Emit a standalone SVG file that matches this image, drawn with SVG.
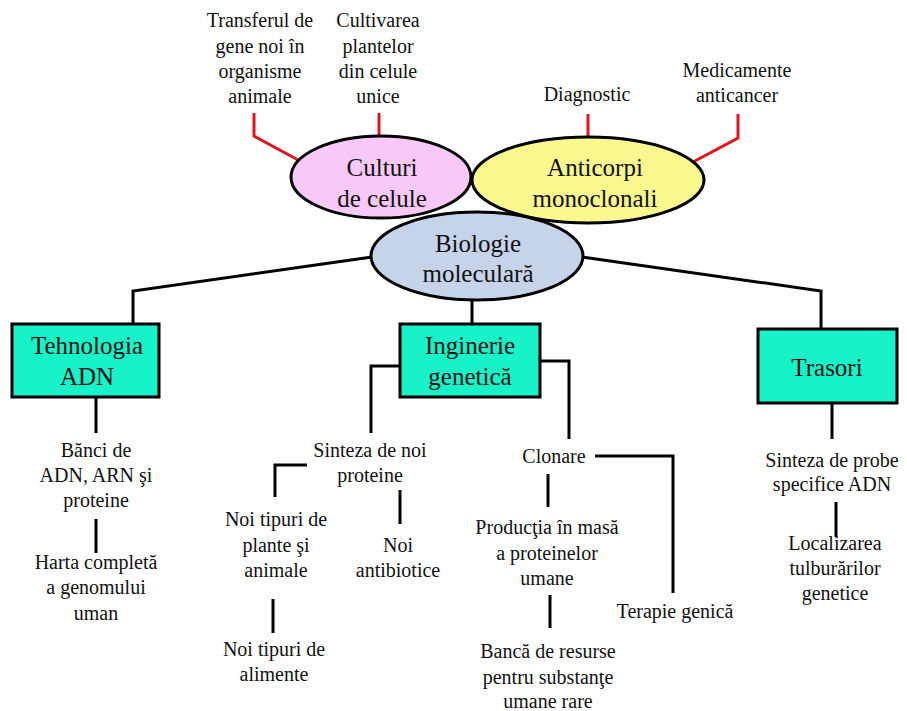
<svg xmlns="http://www.w3.org/2000/svg" width="907" height="711" viewBox="0 0 907 711" font-family="Liberation Serif, DejaVu Serif, serif">
<style>
text{fill:#111;text-anchor:middle}
.s{font-size:20px}
.b{font-size:25px}
.c{fill:none;stroke:#000;stroke-width:3}
.r{fill:none;stroke:#E0151E;stroke-width:3}
.e{stroke:#000;stroke-width:3}
.box{fill:#18F2C8;stroke:#000;stroke-width:3}
</style>
<rect width="907" height="711" fill="#fff"/>
<g id="connectors">
<polyline class="r" points="254,113 254,136 300,161"/>
<polyline class="r" points="379,113 379,137"/>
<polyline class="r" points="588,114 588,138"/>
<polyline class="r" points="738,114 738,138 693,162"/>
<polyline class="c" points="372,257 133,291 133,324"/>
<polyline class="c" points="472,298 472,324"/>
<polyline class="c" points="582,257 821,291 821,329"/>
<polyline class="c" points="96,397 96,433"/>
<polyline class="c" points="96,519 96,553"/>
<polyline class="c" points="400,366 371,366 371,433"/>
<polyline class="c" points="540,361 569,361 569,439"/>
<polyline class="c" points="307,465 275,465 275,497"/>
<polyline class="c" points="400,490 400,524"/>
<polyline class="c" points="273,599 273,633"/>
<polyline class="c" points="595,456 673,456 673,593"/>
<polyline class="c" points="548,474 548,507"/>
<polyline class="c" points="550,595 550,628"/>
<polyline class="c" points="832,403 832,439"/>
<polyline class="c" points="836,502 836,537"/>
</g>
<g id="transferul"><text class="s" x="260" y="27">Transferul de</text><text class="s" x="260" y="53">gene noi în</text><text class="s" x="260" y="78">organisme</text><text class="s" x="260" y="103">animale</text></g>
<g id="cultivarea"><text class="s" x="378" y="27">Cultivarea</text><text class="s" x="378" y="53">plantelor</text><text class="s" x="378" y="78">din celule</text><text class="s" x="378" y="103">unice</text></g>
<g id="diagnostic"><text class="s" x="587" y="101">Diagnostic</text></g>
<g id="medicamente"><text class="s" x="737" y="77">Medicamente</text><text class="s" x="737" y="102">anticancer</text></g>
<g id="culturi"><ellipse class="e" cx="381" cy="177" rx="90" ry="41" fill="#F8C9F6"/><text class="b" x="382" y="176">Culturi</text><text class="b" x="382" y="207">de celule</text></g>
<g id="anticorpi"><ellipse class="e" cx="588" cy="180" rx="116" ry="43" fill="#FAF78E"/><text class="b" x="595" y="176">Anticorpi</text><text class="b" x="595" y="207">monoclonali</text></g>
<g id="biologie"><ellipse class="e" cx="477" cy="256" rx="106" ry="44" fill="#C6D4EA"/><text class="b" x="478" y="252">Biologie</text><text class="b" x="478" y="282">moleculară</text></g>
<g id="tehnologia"><rect class="box" x="12" y="324" width="147" height="73"/><text class="b" x="87" y="354">Tehnologia</text><text class="b" x="87" y="385">ADN</text></g>
<g id="inginerie"><rect class="box" x="400" y="324" width="140" height="73"/><text class="b" x="470" y="354">Inginerie</text><text class="b" x="470" y="385">genetică</text></g>
<g id="trasori"><rect class="box" x="758" y="329" width="139" height="74"/><text class="b" x="827" y="376">Trasori</text></g>
<g id="banci"><text class="s" x="96" y="457">Bănci  de</text><text class="s" x="96" y="482">ADN, ARN şi</text><text class="s" x="96" y="507">proteine</text></g>
<g id="harta"><text class="s" x="96" y="569">Harta  completă</text><text class="s" x="96" y="594">a genomului</text><text class="s" x="96" y="620">uman</text></g>
<g id="sinteza"><text class="s" x="370" y="457">Sinteza  de noi</text><text class="s" x="370" y="482">proteine</text></g>
<g id="noitipuri"><text class="s" x="276" y="526">Noi tipuri de</text><text class="s" x="276" y="552">plante şi</text><text class="s" x="276" y="577">animale</text></g>
<g id="antibiotice"><text class="s" x="398" y="552">Noi</text><text class="s" x="398" y="577">antibiotice</text></g>
<g id="alimente"><text class="s" x="274" y="656">Noi tipuri de</text><text class="s" x="274" y="681">alimente</text></g>
<g id="clonare"><text class="s" x="554" y="463">Clonare</text></g>
<g id="productia"><text class="s" x="547" y="534">Producţia în masă</text><text class="s" x="547" y="560">a proteinelor</text><text class="s" x="547" y="585">umane</text></g>
<g id="banca"><text class="s" x="548" y="658">Bancă  de resurse</text><text class="s" x="548" y="684">pentru substanţe</text><text class="s" x="548" y="708">umane rare</text></g>
<g id="terapie"><text class="s" x="675" y="618">Terapie  genică</text></g>
<g id="probe"><text class="s" x="832" y="467">Sinteza  de probe</text><text class="s" x="832" y="491">specifice  ADN</text></g>
<g id="localizarea"><text class="s" x="835" y="550">Localizarea</text><text class="s" x="835" y="575">tulburărilor</text><text class="s" x="835" y="600">genetice</text></g>
</svg>
